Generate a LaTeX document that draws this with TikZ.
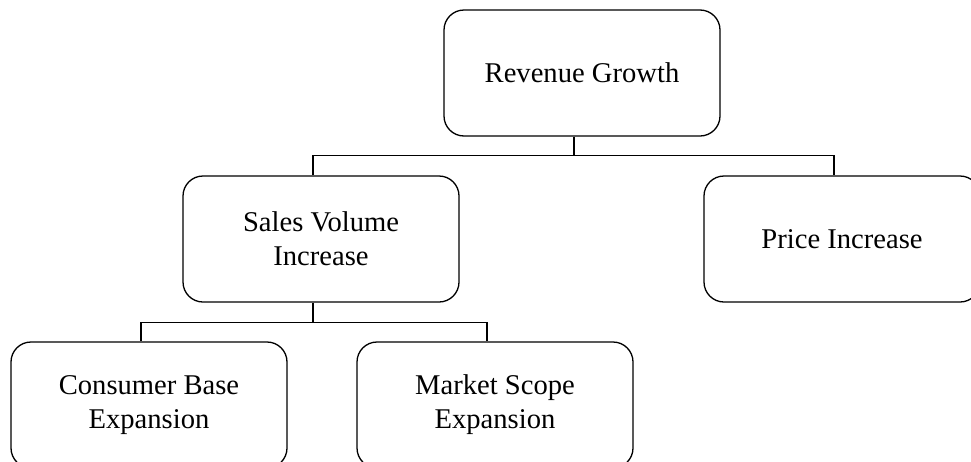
\documentclass[tikz,border=0pt]{standalone}
\usepackage{fontspec}
\setmainfont{Liberation Serif}
\tikzset{
    goal/.style={
        rectangle, draw, rounded corners=20pt, line width=1.3pt,
        minimum width=276pt, minimum height=126pt, align=center,
        font=\fontsize{28.6pt}{34pt}\selectfont
    },
    link/.style={
        line width=1.3pt
    }
}

\begin{document}
\begin{tikzpicture}[x=1pt, y=-1pt]
    \useasboundingbox (0,0) rectangle (971,461);

    \node[goal] (revenue)  at (582,73)  {Revenue Growth};

    \node[goal] (sales)    at (321,239) {Sales Volume\\Increase};
    \node[goal] (price)    at (842,239) {Price Increase};

    \node[goal] (consumer) at (149,405) {Consumer Base\\Expansion};
    \node[goal] (market)   at (495,405) {Market Scope\\Expansion};

    % top level split
    \draw[link] ([xshift=-8pt]revenue.south) -- ++(0,19) coordinate (revbar);
    \draw[link] (revbar) -| ([xshift=-8pt]sales.north);
    \draw[link] (revbar) -| ([xshift=-8pt]price.north);

    % volume split
    \draw[link] ([xshift=-8pt]sales.south) -- ++(0,20) coordinate (salesbar);
    \draw[link] (salesbar) -| ([xshift=-8pt]consumer.north);
    \draw[link] (salesbar) -| ([xshift=-8pt]market.north);
\end{tikzpicture}
\end{document}
